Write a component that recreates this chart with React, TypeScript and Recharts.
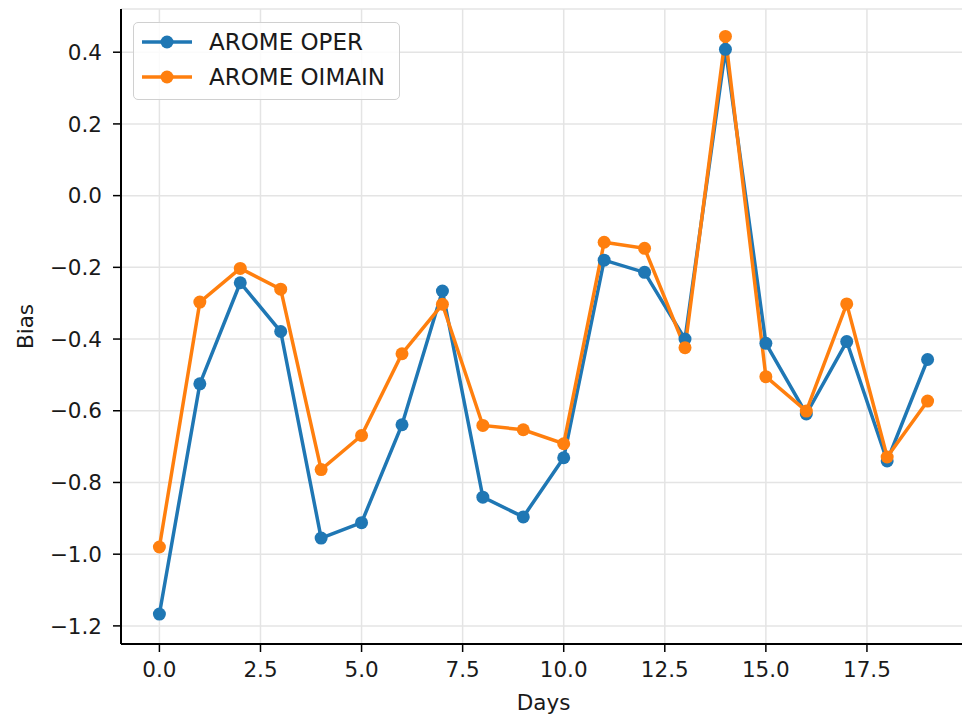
import { LineChart, Line, XAxis, YAxis, CartesianGrid } from 'recharts';

const days = [0, 1, 2, 3, 4, 5, 6, 7, 8, 9, 10, 11, 12, 13, 14, 15, 16, 17, 18, 19];
const oper = [-1.167, -0.525, -0.243, -0.379, -0.955, -0.912, -0.639, -0.266, -0.841, -0.896, -0.731, -0.18, -0.214, -0.4, 0.408, -0.412, -0.609, -0.407, -0.74, -0.457];
const oimain = [-0.98, -0.297, -0.203, -0.261, -0.764, -0.669, -0.441, -0.303, -0.641, -0.653, -0.692, -0.13, -0.147, -0.424, 0.444, -0.505, -0.601, -0.302, -0.729, -0.573];
const xTicks = [0, 2.5, 5, 7.5, 10, 12.5, 15, 17.5];
const yTicks = [-1.2, -1.0, -0.8, -0.6, -0.4, -0.2, 0.0, 0.2, 0.4];

const BLUE = '#1f77b4';
const ORANGE = '#ff7f0e';
const FONT = '"DejaVu Sans", sans-serif';

const series = [
    { key: 'oper', name: 'AROME OPER', color: BLUE },
    { key: 'oimain', name: 'AROME OIMAIN', color: ORANGE },
];

const data = days.map((d, i) => ({ day: d, oper: oper[i], oimain: oimain[i] }));

// matplotlib-like 5% margins
const xMin = -0.95, xMax = 19.95;
const yMin = -1.2505, yMax = 0.5205;

const fmt = (v: number) => v.toFixed(1).replace('-', '\u2212');

const LegendBox = () => (
    <div style={{ position: 'absolute', left: 133, top: 22, background: 'rgba(255,255,255,0.85)', border: '1.5px solid #d0d0d0', borderRadius: 5, width: 267, height: 78, boxSizing: 'border-box', paddingTop: 1 }}>
        {series.map(s => (
            <div key={s.key} style={{ display: 'flex', alignItems: 'center', height: 35 }}>
                <svg width={72} height={20} style={{ marginLeft: 6 }}>
                    <line x1={2} x2={52} y1={10} y2={10} stroke={s.color} strokeWidth={3.5} />
                    <circle cx={27} cy={10} r={6.5} fill={s.color} />
                </svg>
                <span style={{ fontFamily: FONT, fontSize: 23, color: '#1a1a1a', marginLeft: -3 }}>{s.name}</span>
            </div>
        ))}
    </div>
);

const YLabel = ({ viewBox }: any) => {
    const x = viewBox.x + 33;
    const y = viewBox.y + viewBox.height / 2;
    return (
        <text x={x} y={y} transform={`rotate(-90, ${x}, ${y})`} textAnchor="middle" fontFamily={FONT} fontSize={21.5} fill="#1a1a1a">Bias</text>
    );
};

const XLabel = ({ viewBox }: any) => {
    const x = viewBox.x + viewBox.width / 2;
    const y = viewBox.y + 66;
    return (
        <text x={x} y={y} textAnchor="middle" fontFamily={FONT} fontSize={21.5} fill="#1a1a1a">Days</text>
    );
};

export default function App() {
    const tickStyle = { fontFamily: FONT, fontSize: 21.5, fill: '#1a1a1a' };
    return (
        <div style={{ position: 'absolute', left: 0, top: 0, width: 962, height: 714, overflow: 'hidden', background: '#fff' }}>
            <LineChart width={990} height={714} data={data} margin={{ top: 9, right: 24, bottom: 0, left: 0 }}>
                <CartesianGrid stroke="#e4e4e4" strokeWidth={1.5} />
                <XAxis
                    dataKey="day"
                    type="number"
                    domain={[xMin, xMax]}
                    ticks={xTicks}
                    allowDataOverflow
                    height={70}
                    tickFormatter={fmt}
                    tick={tickStyle}
                    tickSize={8}
                    tickMargin={10}
                    axisLine={{ stroke: '#000', strokeWidth: 2 }}
                    tickLine={{ stroke: '#000', strokeWidth: 1.5 }}
                    label={<XLabel />}
                />
                <XAxis
                    xAxisId="top"
                    orientation="top"
                    dataKey="day"
                    type="number"
                    domain={[xMin, xMax]}
                    allowDataOverflow
                    height={0}
                    tick={false}
                    tickLine={false}
                    axisLine={{ stroke: '#000', strokeWidth: 2 }}
                />
                <YAxis
                    type="number"
                    domain={[yMin, yMax]}
                    ticks={yTicks}
                    allowDataOverflow
                    width={121}
                    tickFormatter={fmt}
                    tick={tickStyle}
                    tickSize={8}
                    tickMargin={11}
                    axisLine={{ stroke: '#000', strokeWidth: 2 }}
                    tickLine={{ stroke: '#000', strokeWidth: 1.5 }}
                    label={<YLabel />}
                />
                {series.map(s => (
                    <Line key={s.key} dataKey={s.key} name={s.name} stroke={s.color} strokeWidth={3.5} dot={{ r: 6.5, fill: s.color, stroke: 'none' }} activeDot={false} isAnimationActive={false} />
                ))}
            </LineChart>
            <LegendBox />
        </div>
    );
}
